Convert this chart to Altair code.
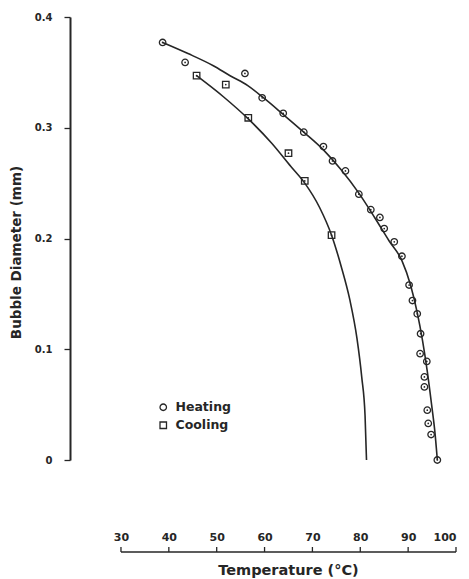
import altair as alt
import pandas as pd

# ---- data ----
heat_T = [38.7, 43.4, 55.9, 59.5, 63.9, 68.2, 72.3, 74.2, 76.9, 79.7, 82.2, 84.1, 85.0, 87.1,
          88.7, 90.2, 90.9, 91.9, 92.6, 92.5, 93.9, 93.4, 93.4, 94.0, 94.2, 94.8, 96.1]
heat_D = [0.377, 0.359, 0.349, 0.327, 0.313, 0.296, 0.283, 0.270, 0.261, 0.240, 0.226, 0.219,
          0.209, 0.197, 0.184, 0.158, 0.144, 0.132, 0.114, 0.096, 0.089, 0.075, 0.066, 0.045,
          0.033, 0.023, 0.000]
cool_T = [45.8, 51.9, 56.6, 65.0, 68.4, 74.0]
cool_D = [0.347, 0.339, 0.309, 0.277, 0.252, 0.203]

heat_curve_T = [38.7, 44.0, 49.3, 52.8, 56.5, 59.5, 63.9, 68.2, 72.3, 76.0, 79.7, 83.0, 86.0,
                88.7, 90.5, 91.9, 93.0, 94.0, 94.9, 95.6, 96.1]
heat_curve_D = [0.377, 0.367, 0.356, 0.347, 0.338, 0.328, 0.312, 0.296, 0.280, 0.262, 0.241,
                0.219, 0.198, 0.180, 0.158, 0.133, 0.108, 0.080, 0.050, 0.025, 0.000]
cool_curve_T = [45.8, 51.4, 56.6, 61.5, 65.5, 68.4, 71.5, 74.0, 76.0, 77.8, 79.3, 80.3, 81.0, 81.3]
cool_curve_D = [0.347, 0.328, 0.308, 0.286, 0.265, 0.250, 0.228, 0.203, 0.175, 0.145, 0.110,
                0.075, 0.040, 0.000]

series_names = ["Heating", "Cooling"]
x_ticks = [30, 40, 50, 60, 70, 80, 90, 100]
y_ticks = [0, 0.1, 0.2, 0.3, 0.4]

pts = pd.DataFrame({
    "T": heat_T + cool_T,
    "D": heat_D + cool_D,
    "Series": [series_names[0]] * len(heat_T) + [series_names[1]] * len(cool_T),
})
curves = pd.DataFrame({
    "T": heat_curve_T + cool_curve_T,
    "D": heat_curve_D + cool_curve_D,
    "Series": [series_names[0]] * len(heat_curve_T) + [series_names[1]] * len(cool_curve_T),
    "i": list(range(len(heat_curve_T))) + list(range(len(cool_curve_T))),
})
xaxis_df = pd.DataFrame({"T": [min(x_ticks)], "T2": [max(x_ticks)]})
xtick_df = pd.DataFrame({"T": x_ticks})

INK = "#262626"
FONT = "DejaVu Sans"
W, H = 386, 443
AX_Y = H + 92  # x axis sits below the plot

xscale = alt.Scale(domain=[19.35, 100], nice=False, zero=False)
yscale = alt.Scale(domain=[0, 0.4], nice=False, zero=True)

x_enc = alt.X("T:Q", scale=xscale, axis=alt.Axis(
    orient="top", offset=-AX_Y, values=x_ticks, format="d",
    domain=False, ticks=False,
    labels=True, labelFont=FONT, labelFontSize=11, labelFontWeight="bold", labelColor=INK,
    labelPadding=10, grid=False,
    title="Temperature (°C)", titleFont=FONT, titleFontSize=14.5, titleFontWeight="bold",
    titleColor=INK, titleX=218, titleY=22, titleAlign="center", titleBaseline="alphabetic",
    titleAngle=0,
))
y_enc = alt.Y("D:Q", scale=yscale, axis=alt.Axis(
    values=y_ticks, format=".1~f",
    domain=True, domainColor=INK, domainWidth=2,
    ticks=True, tickSize=6, tickColor=INK, tickWidth=1.3,
    labelFont=FONT, labelFontSize=10, labelFontWeight="bold", labelColor=INK, labelPadding=12,
    grid=False,
    title="Bubble Diameter (mm)", titleFont=FONT, titleFontSize=13.5, titleFontWeight="bold",
    titleColor=INK, titleX=-54, titleY=235, titleAngle=270, titleAlign="center",
    titleBaseline="middle",
))

lines = alt.Chart(curves).mark_line(color=INK, strokeWidth=1.6, interpolate="monotone").encode(
    x=x_enc, y=y_enc, detail="Series:N", order="i:Q"
)

# x axis line and upward ticks
ax_line = alt.Chart(xaxis_df).mark_rule(color=INK, strokeWidth=1.4).encode(
    x=alt.X("T:Q", scale=xscale), x2="T2:Q", y=alt.value(AX_Y)
)
ax_ticks = alt.Chart(xtick_df).mark_rule(color=INK, strokeWidth=1.3).encode(
    x=alt.X("T:Q", scale=xscale), y=alt.value(AX_Y - 5), y2=alt.value(AX_Y)
)

shape_scale = alt.Scale(domain=series_names, range=["circle", "square"])

points = alt.Chart(pts).mark_point(filled=False, color=INK, size=42, strokeWidth=1.3, opacity=1).encode(
    x=alt.X("T:Q", scale=xscale),
    y=alt.Y("D:Q", scale=yscale),
    shape=alt.Shape("Series:N", scale=shape_scale, legend=alt.Legend(
        orient="none", legendX=87, legendY=384, title=None,
        labelFont=FONT, labelFontSize=12.5, labelFontWeight="bold", labelColor=INK,
        symbolSize=42, symbolStrokeColor=INK, symbolStrokeWidth=1.3, symbolFillColor="white",
        symbolType="circle", rowPadding=5, labelOffset=6, padding=0,
    )),
)

dots = alt.Chart(pts).mark_point(filled=True, color=INK, size=3, opacity=1, shape="circle").encode(
    x=alt.X("T:Q", scale=xscale),
    y=alt.Y("D:Q", scale=yscale),
)

chart = alt.layer(lines, ax_line, ax_ticks, points, dots).properties(
    width=W, height=H,
    autosize=alt.AutoSizeParams(type="none"),
    padding={"left": 62, "top": 9, "right": 5, "bottom": 120},
    background="white",
).configure_view(stroke=None)

chart.save("out.html", embed_options={"renderer": "svg", "actions": False})
